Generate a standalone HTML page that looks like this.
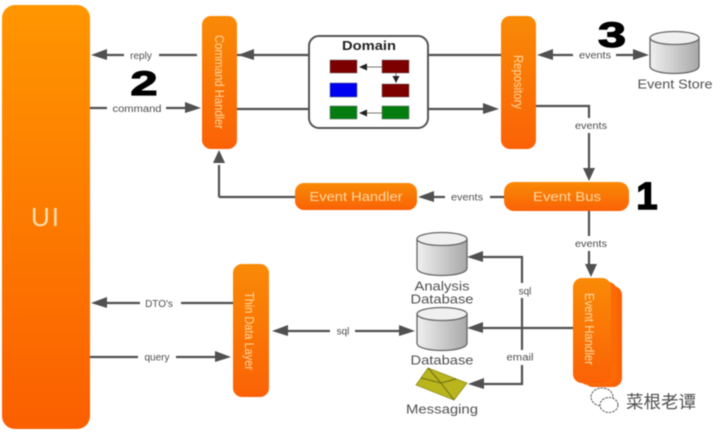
<!DOCTYPE html>
<html><head><meta charset="utf-8"><style>
html,body{margin:0;padding:0;background:#fff;width:720px;height:434px;overflow:hidden}
svg{display:block;filter:blur(.55px)}
text{font-family:"Liberation Sans","Noto Sans CJK SC",sans-serif}
.l{font-size:10px;fill:#4d4d4d;text-anchor:middle}
.n{font-size:13px;fill:#505050;text-anchor:middle}
.w{fill:#ffd9a0;text-anchor:middle;font-size:12.5px}
.h{fill:#ffd9a0;text-anchor:middle;font-size:13px}
.b{font-weight:bold;fill:#000;text-anchor:middle;font-family:"Liberation Sans",sans-serif}
.c{fill:none;stroke:#505050;stroke-width:2.2}
.a{fill:#505050}
.bg{fill:#fff}
.cyl{fill:url(#g);stroke:#666;stroke-width:1.3}
</style></head><body>
<svg width="720" height="434" viewBox="0 0 720 434" xmlns="http://www.w3.org/2000/svg">
<defs>
<linearGradient id="o" x1="0" y1="0" x2="0" y2="1"><stop offset="0" stop-color="#ff9600"/><stop offset="1" stop-color="#fb5f00"/></linearGradient>
<linearGradient id="o2" x1="0" y1="0" x2="0" y2="1"><stop offset="0" stop-color="#f98a06"/><stop offset="1" stop-color="#fb6206"/></linearGradient>
<linearGradient id="g" x1="0" y1="0" x2="1" y2="0"><stop offset="0" stop-color="#f0f0f0"/><stop offset="1" stop-color="#a8a8a8"/></linearGradient>
</defs>
<rect width="720" height="434" fill="#fff"/>

<!-- Orange blocks -->
<rect x="2" y="5" width="88" height="424" rx="13" fill="url(#o)"/>
<text x="46" y="226" text-anchor="middle" font-size="26" fill="#ffe0b0" letter-spacing="2">UI</text>
<rect x="202" y="16" width="35" height="133" rx="9" fill="url(#o2)"/>
<rect x="501" y="16" width="35" height="133" rx="9" fill="url(#o2)"/>
<rect x="233" y="264" width="36" height="133" rx="9" fill="url(#o2)"/>
<rect x="295" y="183" width="122" height="27" rx="9" fill="url(#o2)"/>
<rect x="504" y="182" width="125" height="29" rx="10" fill="url(#o2)"/>
<rect x="584" y="286" width="38" height="101" rx="9" fill="#fb6206"/>
<rect x="579" y="282" width="38" height="103" rx="9" fill="#fb6a06"/>
<rect x="573" y="278" width="38" height="105" rx="9" fill="url(#o2)"/>

<text class="w" transform="translate(215,82) rotate(90)" textLength="94" lengthAdjust="spacingAndGlyphs">Command Handler</text>
<text class="w" transform="translate(514,82) rotate(90)" textLength="54" lengthAdjust="spacingAndGlyphs">Repository</text>
<text class="w" transform="translate(245,331) rotate(90)" textLength="78" lengthAdjust="spacingAndGlyphs">Thin Data Layer</text>
<text class="w" transform="translate(585,329) rotate(90)" textLength="72" lengthAdjust="spacingAndGlyphs">Event Handler</text>
<text class="h" x="356" y="201" textLength="93" lengthAdjust="spacingAndGlyphs">Event Handler</text>
<text class="h" x="567" y="201" textLength="68" lengthAdjust="spacingAndGlyphs">Event Bus</text>

<!-- Connectors top -->
<path class="c" d="M237 55H309M428 55H501M237 109H309M428 109H491"/>
<path class="a" d="M238 55l16-6v11zM499 109l-16-6v11z"/>
<path class="c" d="M105 55H197M90 108H190"/>
<path class="a" d="M91 55l16-6v11zM201 108l-16-6v11z"/>
<rect class="bg" x="124" y="48" width="35" height="14"/>
<text class="l" x="141" y="59">reply</text>
<rect class="bg" x="107" y="101" width="59" height="14"/>
<text class="l" x="137" y="112" textLength="49" lengthAdjust="spacingAndGlyphs">command</text>

<path class="c" d="M219 197V165M295 197H219"/>
<path class="a" d="M219 150l-6 13h12z"/>
<path class="c" d="M431 197H504"/>
<path class="a" d="M418 197l16-6v11z"/>
<rect class="bg" x="445" y="190" width="45" height="14"/>
<text class="l" x="467" y="200.500" textLength="32" lengthAdjust="spacingAndGlyphs">events</text>

<path class="c" d="M550 55H640"/>
<path class="a" d="M537 55l16-6v11zM649 55l-16-6v11z"/>
<rect class="bg" x="573" y="48" width="43" height="14"/>
<text class="l" x="595" y="58.500" textLength="32" lengthAdjust="spacingAndGlyphs">events</text>

<path class="c" d="M536 106H589V172"/>
<path class="a" d="M589 181l-6-13h12z"/>
<rect class="bg" x="570" y="118" width="40" height="15"/>
<text class="l" x="591" y="129" textLength="32" lengthAdjust="spacingAndGlyphs">events</text>

<path class="c" d="M589 211V264"/>
<path class="a" d="M591 277l-6-13h12z"/>
<rect class="bg" x="570" y="236" width="40" height="15"/>
<text class="l" x="591" y="247" textLength="32" lengthAdjust="spacingAndGlyphs">events</text>

<!-- Lower connectors -->
<path class="c" d="M105 303H233M90 357H220"/>
<path class="a" d="M91 303l16-6v11zM231 357l-16-6v11z"/>
<rect class="bg" x="140" y="296" width="41" height="14"/>
<text class="l" x="159" y="307">DTO's</text>
<rect class="bg" x="138" y="350" width="38" height="14"/>
<text class="l" x="157" y="360.500">query</text>

<path class="c" d="M285 331H405"/>
<path class="a" d="M272 331l16-6v11zM415 331l-16-6v11z"/>
<rect class="bg" x="330" y="324" width="25" height="14"/>
<text class="l" x="343" y="334.500">sql</text>

<path class="c" d="M480 257H522V384H480M480 328H573"/>
<path class="a" d="M467 257l16-6v11zM467 328l16-6v11zM468 384l16-6v11z"/>
<rect class="bg" x="514" y="283" width="22" height="15"/>
<text class="l" x="525" y="294.500">sql</text>
<rect class="bg" x="505" y="350" width="30" height="15"/>
<text class="l" x="520" y="360.500" textLength="27" lengthAdjust="spacingAndGlyphs">email</text>

<!-- Domain -->
<rect x="309" y="36" width="119" height="92" rx="10" fill="#fff" stroke="#555" stroke-width="2"/>
<text x="369" y="50" text-anchor="middle" font-size="13" font-weight="bold" fill="#222" textLength="54" lengthAdjust="spacingAndGlyphs">Domain</text>
<rect x="330" y="60" width="27" height="13" fill="#7c0000" stroke="#666" stroke-width=".5"/>
<rect x="382" y="60" width="27" height="13" fill="#7c0000" stroke="#666" stroke-width=".5"/>
<rect x="330" y="83" width="27" height="14" fill="#0000f0" stroke="#666" stroke-width=".5"/>
<rect x="382" y="84" width="27" height="13" fill="#7c0000" stroke="#666" stroke-width=".5"/>
<rect x="330" y="106" width="27" height="13" fill="#057c10" stroke="#666" stroke-width=".5"/>
<rect x="382" y="106" width="27" height="13" fill="#057c10" stroke="#666" stroke-width=".5"/>
<path d="M364 67H382M364 113H382M396 73V78" stroke="#777" stroke-width="1" fill="none"/>
<path d="M359 67l8-3.500v7zM359 113l8-3.500v7zM396 83l-3.500-7h7z" fill="#222"/>

<!-- Cylinders -->
<path class="cyl" d="M650 38V66C650 76 699 76 699 66V38z"/>
<ellipse cx="674.500" cy="38" rx="24.500" ry="6.500" fill="#f0f0f0" stroke="#666" stroke-width="1.300"/>
<path class="cyl" d="M417 239V268C417 278 467 278 467 268V239z"/>
<ellipse cx="442" cy="239" rx="25" ry="6.500" fill="#f0f0f0" stroke="#666" stroke-width="1.300"/>
<path class="cyl" d="M417 314V343C417 353 467 353 467 343V314z"/>
<ellipse cx="442" cy="314" rx="25" ry="6.500" fill="#f0f0f0" stroke="#666" stroke-width="1.300"/>

<text class="n" x="675" y="88.500" textLength="75" lengthAdjust="spacingAndGlyphs">Event Store</text>
<text class="n" x="442" y="290.500" textLength="55" lengthAdjust="spacingAndGlyphs">Analysis</text>
<text class="n" x="442" y="303.500" textLength="63" lengthAdjust="spacingAndGlyphs">Database</text>
<text class="n" x="442" y="364.500" textLength="63" lengthAdjust="spacingAndGlyphs">Database</text>
<text class="n" x="442" y="413.500" textLength="72" lengthAdjust="spacingAndGlyphs">Messaging</text>

<!-- Envelope -->
<path d="M416 385L428 368L467 383L454 400z" fill="#b9b51d" stroke="#8d8a18" stroke-width=".8"/>
<path d="M421 378L441 383L456 379M428 368L441 383M441 383L454 400" fill="none" stroke="#6f6d15" stroke-width="1"/>

<!-- Big numbers -->
<text class="b" x="144" y="95" font-size="34" stroke="#000" stroke-width="1.200" textLength="27" lengthAdjust="spacingAndGlyphs">2</text>
<text class="b" x="612" y="47" font-size="35" stroke="#000" stroke-width="1.200" textLength="28" lengthAdjust="spacingAndGlyphs">3</text>
<text class="b" x="647" y="209" font-size="38" stroke="#000" stroke-width="1.500">1</text>

<!-- Watermark -->
<g fill="none" stroke="#666" stroke-width="1.100" stroke-dasharray="2.500 1">
<ellipse cx="602" cy="397" rx="11" ry="9"/>
<ellipse cx="609" cy="405" rx="9" ry="7.500" fill="#fff"/>
</g>
<text x="661" y="408" text-anchor="middle" font-size="17.500" fill="#505050">菜根老谭</text>
</svg>
</body></html>
